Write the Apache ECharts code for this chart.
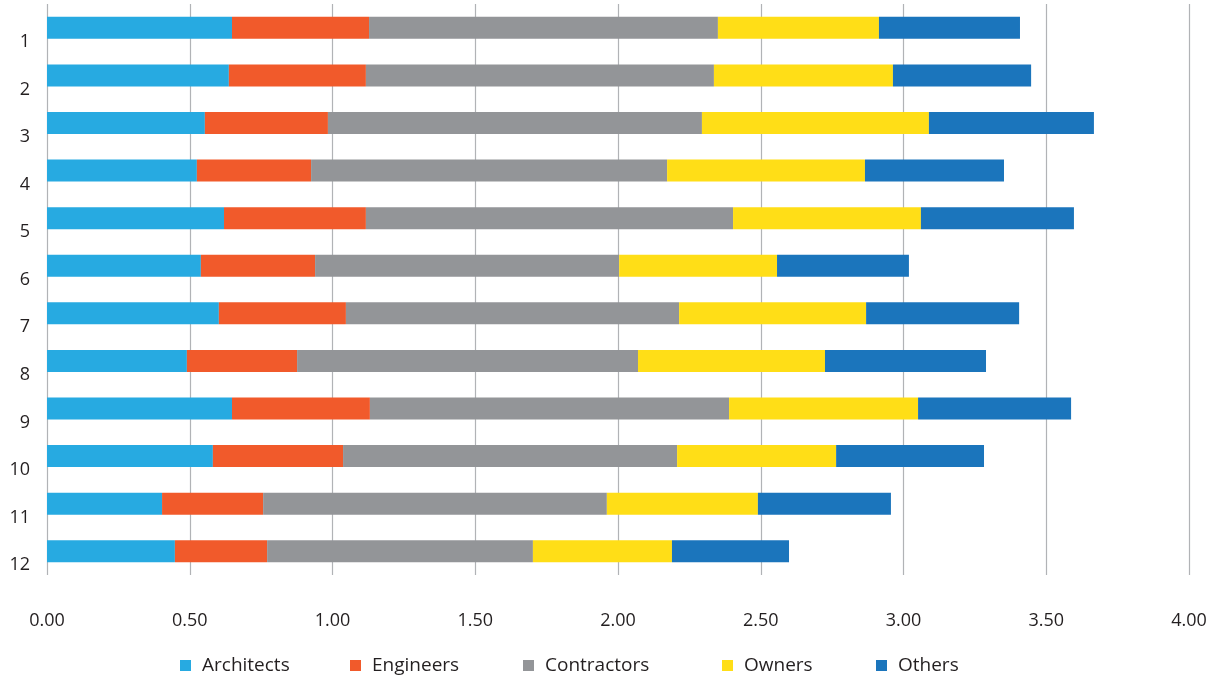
<!DOCTYPE html>
<html>
<head>
<meta charset="utf-8">
<script src="https://cdn.jsdelivr.net/npm/echarts@6/dist/echarts.min.js"></script>
<style>html,body{margin:0;padding:0;background:#fff;}#c{width:1221px;height:677px;}</style>
</head>
<body>
<div id="c"></div>
<script>
const categories = ['1','2','3','4','5','6','7','8','9','10','11','12'];
const architects  = [0.648,0.637,0.553,0.525,0.620,0.539,0.602,0.490,0.648,0.581,0.403,0.448];
const engineers   = [0.480,0.480,0.431,0.400,0.497,0.400,0.445,0.386,0.483,0.456,0.354,0.323];
const contractors = [1.222,1.219,1.310,1.247,1.286,1.065,1.167,1.194,1.258,1.170,1.204,0.931];
const owners      = [0.564,0.627,0.795,0.693,0.658,0.553,0.655,0.655,0.662,0.557,0.529,0.487];
const others      = [0.494,0.484,0.578,0.487,0.536,0.462,0.536,0.564,0.536,0.518,0.466,0.410];
const seriesNames = ['Architects','Engineers','Contractors','Owners','Others'];
const colors = ['#27aae1','#f15a2b','#939598','#ffde17','#1b75bc'];
const seriesData = [architects, engineers, contractors, owners, others];
const legendLeft = [180, 350, 523, 722, 876];

const font = 'Open Sans';
const chart = echarts.init(document.getElementById('c'));
chart.setOption({
  animation: false,
  textStyle: { fontFamily: font, color: '#231f20' },
  grid: { left: 47, right: 32, top: 4, bottom: 102, containLabel: false },
  xAxis: {
    type: 'value', min: 0, max: 4, interval: 0.5,
    axisLine: { show: false }, axisTick: { show: false },
    splitLine: { show: true, lineStyle: { color: '#b1b3b6', width: 1.2 } },
    axisLabel: { fontFamily: font, fontSize: 18, color: '#231f20', margin: 37,
      formatter: v => v.toFixed(2) }
  },
  yAxis: {
    type: 'category', data: categories, inverse: true,
    axisLine: { show: false }, axisTick: { show: false },
    axisLabel: { fontFamily: font, fontSize: 18, color: '#231f20', margin: 17,
      verticalAlign: 'top', padding: [5, 0, 0, 0] }
  },
  legend: seriesNames.map((n, i) => ({
    data: [n], left: legendLeft[i], top: 656, icon: 'rect', padding: 0,
    itemWidth: 11, itemHeight: 11,
    textStyle: { fontFamily: font, fontSize: 19, color: '#231f20', padding: [0, 0, 0, 6] }
  })),
  series: seriesNames.map((n, i) => ({
    name: n, type: 'bar', stack: 'total', barWidth: 22,
    itemStyle: { color: colors[i] },
    data: seriesData[i]
  }))
});
</script>
</body>
</html>
